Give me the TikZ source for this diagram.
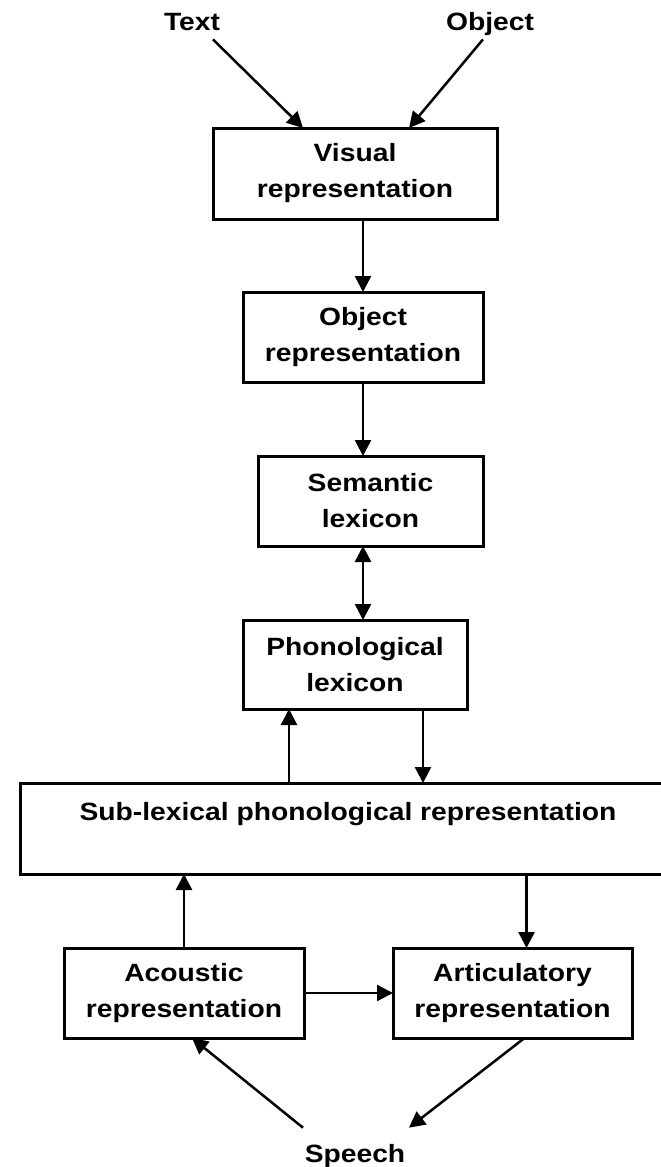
\documentclass[tikz,border=0pt]{standalone}
\usepackage{fontspec}
\setmainfont{Liberation Sans}[FakeStretch=1.13]
\usetikzlibrary{arrows.meta}
\begin{document}
\begin{tikzpicture}[x=1pt,y=-1pt,
  box/.style={draw, line width=3pt, inner sep=0pt, outer sep=0pt, align=center,
    font=\fontsize{25}{36}\selectfont\bfseries},
  lbl/.style={inner sep=2pt, anchor=base, font=\fontsize{25}{36}\selectfont\bfseries},
  arr/.style={line width=2.5pt, -{Triangle[length=16pt,width=16pt]}},
  darr/.style={line width=2.5pt, {Triangle[length=16pt,width=16pt]}-{Triangle[length=16pt,width=16pt]}}]
\useasboundingbox (0,0) rectangle (661,1167);
\clip (0,0) rectangle (661,1167);
\fill[white] (0,0) rectangle (661,1167);

\node[box, minimum width=284pt, minimum height=91pt] (vis) at (355,173.5) {Visual\\representation};
\node[box, minimum width=240pt, minimum height=90pt] (obj) at (363,337) {Object\\representation};
\node[box, minimum width=225pt, minimum height=90pt] (sem) at (370.5,501) {Semantic\\lexicon};
\node[box, minimum width=224pt, minimum height=89pt] (pho) at (355,664.5) {Phonological\\lexicon};
\node[box, minimum width=656pt, minimum height=91pt] (sub) at (348,828.5) {};
\node[lbl] (subt) at (348,820) {Sub-lexical phonological representation};
\node[box, minimum width=240pt, minimum height=90pt] (aco) at (184,993) {Acoustic\\representation};
\node[box, minimum width=239pt, minimum height=90pt] (art) at (512.5,993) {Articulatory\\representation};

\node[lbl] (txt) at (192,30) {Text};
\node[lbl] (objl) at (490,30) {Object};
\node[lbl] (sp) at (355,1162) {Speech};

% top inputs
\draw[arr] ([xshift=21pt,yshift=-7pt]txt.south) -- ([xshift=-52pt]vis.north);
\draw[arr] ([xshift=-7pt,yshift=-2pt]objl.south) -- ([xshift=54pt]vis.north);

% vertical chain
\draw[arr] ([xshift=8pt]vis.south) -- (obj.north);
\draw[arr] (obj.south) -- (obj.south |- sem.north);
\draw[darr] (obj.south |- sem.south) -- (obj.south |- pho.north);

% phonological lexicon <-> sub-lexical
\coordinate (pu) at ([xshift=46pt]pho.south west);
\coordinate (pd) at ([xshift=-44pt]pho.south east);
\draw[arr] (pu |- sub.north) -- (pu);
\draw[arr] (pd) -- (pd |- sub.north);

% sub-lexical <-> lower boxes
\coordinate (ad) at ([xshift=14pt]art.north);
\draw[arr] (aco.north) -- (aco.north |- sub.south);
\draw[arr] (ad |- sub.south) -- (ad);
\draw[arr] (aco.east) -- (art.west);

% speech loop
\draw[arr] ([xshift=-52pt,yshift=14pt]sp.north) -- ([xshift=8pt]aco.south);
\draw[arr] ([xshift=12pt]art.south) -- ([xshift=54pt,yshift=14pt]sp.north);
\end{tikzpicture}
\end{document}
